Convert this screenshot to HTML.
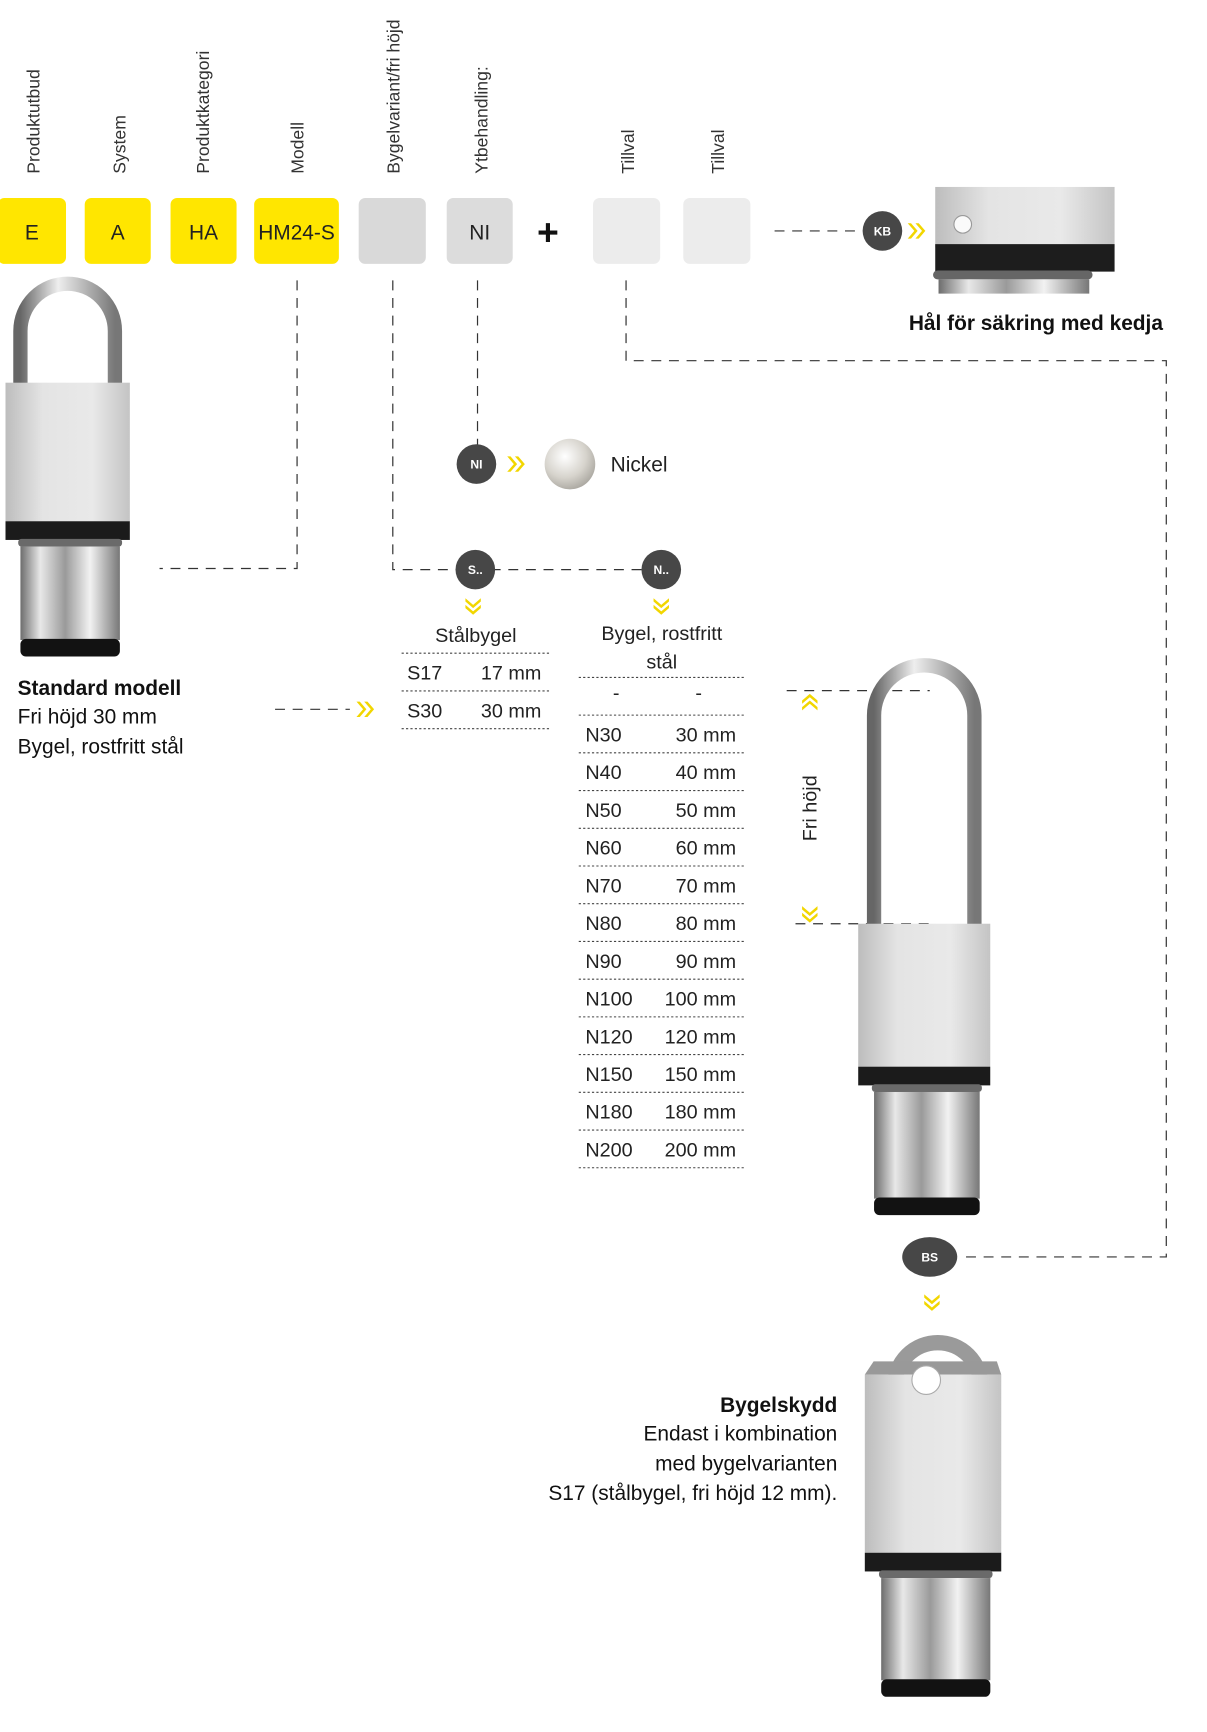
<!DOCTYPE html>
<html><head><meta charset="utf-8"><style>
html,body{margin:0;padding:0;background:#fff;width:1207px;height:1732px;overflow:hidden}
svg{display:block;font-family:"Liberation Sans","DejaVu Sans",sans-serif}
</style></head><body>
<svg id="s" width="1207" height="1732" viewBox="0 0 1097 1575" preserveAspectRatio="none">
<defs>
<linearGradient id="body" x1="0" x2="1"><stop offset="0" stop-color="#bdbdbd"/><stop offset=".3" stop-color="#e4e4e4"/><stop offset=".7" stop-color="#e9e9e9"/><stop offset="1" stop-color="#c4c4c4"/></linearGradient>
<linearGradient id="cyl" x1="0" x2="1"><stop offset="0" stop-color="#6d6d6d"/><stop offset=".2" stop-color="#e8e8e8"/><stop offset=".45" stop-color="#9a9a9a"/><stop offset=".7" stop-color="#f2f2f2"/><stop offset="1" stop-color="#777"/></linearGradient>
<linearGradient id="shk" x1="0" x2="1"><stop offset="0" stop-color="#666"/><stop offset=".4" stop-color="#eee"/><stop offset="1" stop-color="#777"/></linearGradient>
<radialGradient id="pearl" cx=".4" cy=".35" r=".7"><stop offset="0" stop-color="#fff"/><stop offset=".6" stop-color="#d6d3cc"/><stop offset="1" stop-color="#a8a59e"/></radialGradient>
</defs>
<g fill="none" stroke="#333" stroke-width="1.1" stroke-dasharray="9 7">
<path d="M270 255 V517 H145"/>
<path d="M357 255 V518 H600"/>
<path d="M434 255 V405"/>
<path d="M569 255 V328 H1060 V1143 H872"/>
<path d="M704 210 H778"/>
<path d="M250 645 H318"/>
<path d="M715 628 H845"/>
<path d="M723 840 H845"/>
</g>
<g id="labels" font-size="16" fill="#333"></g>
<g id="boxes"></g>
<text x="498" y="223" font-size="34" font-weight="bold" text-anchor="middle" fill="#111">+</text>

<!-- KB lock top -->
<g>
<rect x="850" y="170" width="163" height="55" fill="url(#body)"/>
<circle cx="875" cy="204" r="8" fill="#fafafa" stroke="#999"/>
<rect x="850" y="222" width="163" height="25" fill="#1d1d1d"/>
<rect x="848" y="246" width="145" height="8" rx="4" fill="#666"/>
<rect x="853" y="254" width="137" height="13" fill="url(#cyl)"/>
</g>
<text x="1057" y="300" font-size="19" font-weight="bold" text-anchor="end" fill="#111">Hål för säkring med kedja</text>

<g id="badges"></g>
<g id="chev" fill="#f2d600"></g>

<circle cx="518" cy="422" r="23" fill="url(#pearl)"/>
<text x="555" y="429" font-size="19" fill="#222">Nickel</text>

<g id="locks"></g>

<g font-size="19" fill="#111">
<text x="16" y="632" font-weight="bold">Standard modell</text>
<text x="16" y="658">Fri höjd 30 mm</text>
<text x="16" y="685">Bygel, rostfritt stål</text>
</g>
<g font-size="19" fill="#111" text-anchor="end">
<text x="761" y="1284" font-weight="bold">Bygelskydd</text>
<text x="761" y="1310">Endast i kombination</text>
<text x="761" y="1337">med bygelvarianten</text>
<text x="761" y="1364">S17 (stålbygel, fri höjd 12 mm).</text>
</g>
<text transform="translate(742 735) rotate(-90)" font-size="18" text-anchor="middle" fill="#222">Fri höjd</text>

<g id="tS" font-size="18" fill="#222"></g>
<g id="tN" font-size="18" fill="#222"></g>
</svg>
<script>
const NS='http://www.w3.org/2000/svg';
function mk(tag,attrs,parent,txt){const e=document.createElementNS(NS,tag);for(const k in attrs)e.setAttribute(k,attrs[k]);if(txt!==undefined)e.textContent=txt;parent.appendChild(e);return e;}
const headerNames=['Produktutbud','System','Produktkategori','Modell','Bygelvariant/fri höjd','Ytbehandling:','Tillval','Tillval'];
const headerX=[36,114,190,276,363,443,576,658];
const L=document.getElementById('labels');
headerNames.forEach((n,i)=>{const t=mk('text',{transform:`translate(${headerX[i]} 158) rotate(-90)`},L,n);

});
const boxCodes=['E','A','HA','HM24-S','','NI','',''];
const boxX=[-2,77,155,231,326,406,539,621];
const boxW=[62,60,60,77,61,60,61,61];
const boxFill=['#ffe600','#ffe600','#ffe600','#ffe600','#d9d9d9','#dcdcdc','#ececec','#ececec'];
const B=document.getElementById('boxes');
boxCodes.forEach((c,i)=>{const r=mk('rect',{x:boxX[i],y:180,width:boxW[i],height:60,rx:6,fill:boxFill[i]},B);


if(c){const t=mk('text',{x:boxX[i]+boxW[i]/2,y:218,'font-size':19,'text-anchor':'middle',fill:'#222'},B,c);

}});
const badgeLabels=['KB','NI','S..','N..','BS'];
const badgeX=[802,433,432,601,845];
const badgeY=[210,422,518,518,1143];
const G=document.getElementById('badges');
badgeLabels.forEach((b,i)=>{const rx=b==='BS'?25:18;const e=mk('ellipse',{cx:badgeX[i],cy:badgeY[i],rx:rx,ry:18,fill:'#474747'},G);


mk('text',{x:badgeX[i],y:badgeY[i]+4,'font-size':11,'font-weight':'bold','text-anchor':'middle',fill:'#fff'},G,b);});
const C=document.getElementById('chev');
function chevR(x,y){for(let k=0;k<2;k++)mk('path',{d:`M${x+k*7} ${y-7} l6 7 l-6 7 h-3 l6 -7 l-6 -7z`},C);}
function chevD(x,y,up){for(let k=0;k<2;k++){const yy=y+k*6;mk('path',{d:up?`M${x-7} ${yy+5} l7 -6 l7 6 v3 l-7 -6 l-7 6z`:`M${x-7} ${yy-5} l7 6 l7 -6 v3 l-7 6 l-7 -6z`},C);}}
chevR(828,210);chevR(464,422);chevR(327,645);
chevD(430,549);chevD(601,549);chevD(847,1182);chevD(736,632,true);chevD(736,829);
// padlocks
const P=document.getElementById('locks');
function lock(x,w,shTop,bodyTop,bandY,cylBot,shield){
  const g=mk('g',{},P);
  if(!shield){const sx1=x+w*0.12,sx2=x+w*0.88,t=13,r=(sx2-sx1)/2;
    mk('path',{d:`M${sx1} ${bodyTop+2} V${shTop+r} A${r} ${r} 0 0 1 ${sx2} ${shTop+r} V${bodyTop+2}`,fill:'none',stroke:'url(#shk)','stroke-width':t},g);}
  else{mk('path',{d:`M${x+w*0.22} ${bodyTop+10} A${w*0.3} ${w*0.3} 0 0 1 ${x+w*0.85} ${bodyTop+10}`,fill:'none',stroke:'#9a9a9a','stroke-width':14},g);
    mk('path',{d:`M${x} ${bodyTop} L${x+8} ${bodyTop-12} H${x+w-4} L${x+w} ${bodyTop}z`,fill:'#999'},g);}
  mk('rect',{x:x,y:bodyTop,width:w,height:bandY-bodyTop,fill:'url(#body)'},g);
  if(shield)mk('circle',{cx:x+w*0.45,cy:bodyTop+5,r:13,fill:'#fff',stroke:'#aaa'},g);
  mk('rect',{x:x,y:bandY,width:w,height:17,fill:'#1b1b1b'},g);
  const cx=x+w*0.12,cw=w*0.8;
  mk('rect',{x:cx-2,y:bandY+16,width:cw+4,height:7,rx:3,fill:'#6a6a6a'},g);
  mk('rect',{x:cx,y:bandY+23,width:cw,height:cylBot-bandY-38,fill:'url(#cyl)'},g);
  mk('rect',{x:cx,y:cylBot-16,width:cw,height:16,rx:5,fill:'#121212'},g);
}
lock(5,113,258,348,474,597);
lock(780,120,605,840,970,1105);
lock(786,124,1205,1250,1412,1543,true);
// tables
const sCodes=['S17','S30'];
const sSizes=['17 mm','30 mm'];
const nCodes=['-','N30','N40','N50','N60','N70','N80','N90','N100','N120','N150','N180','N200'];
const nSizes=['-','30 mm','40 mm','50 mm','60 mm','70 mm','80 mm','90 mm','100 mm','120 mm','150 mm','180 mm','200 mm'];
function table(id,x1,x2,titleLines,titleY,firstLine,codes,sizes,codeX,dashCenter){
  const T=document.getElementById(id);const cxm=(x1+x2)/2;
  titleLines.forEach((l,i)=>mk('text',{x:cxm,y:titleY+i*26,'text-anchor':'middle'},T,l));
  const rh=34.3;
  for(let i=0;i<=codes.length;i++)mk('line',{x1:x1,x2:x2,y1:firstLine+i*rh,y2:firstLine+i*rh,stroke:'#444','stroke-width':1,'stroke-dasharray':'2 2'},T);
  codes.forEach((c,i)=>{const y=firstLine+i*rh+24;
    if(c==='-'){mk('text',{x:x1+34,y:y-4,'text-anchor':'middle'},T,'-');mk('text',{x:x2-42,y:y-4,'text-anchor':'middle'},T,'-');}
    else{const a=mk('text',{x:codeX,y:y},T,c);
    
    
    mk('text',{x:x2-8,y:y,'text-anchor':'end'},T,sizes[i]);}});
}
table('tS',365,500,['Stålbygel'],584,594,sCodes,sSizes,370);
table('tN',526,677,['Bygel, rostfritt','stål'],582,616,nCodes,nSizes,532);
</script>
</body></html>
